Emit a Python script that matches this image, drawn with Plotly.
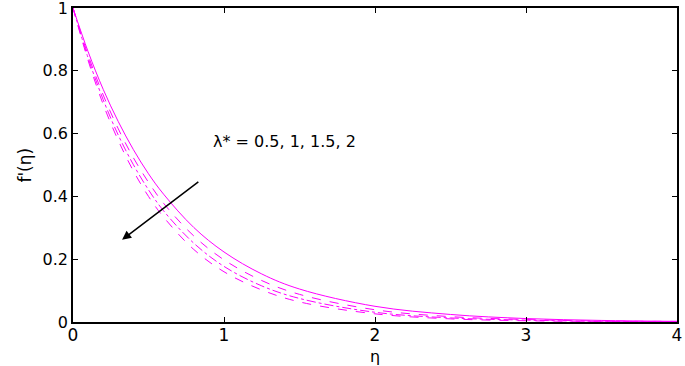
import plotly.graph_objects as go

eta = [0, 0.1, 0.2, 0.3, 0.4, 0.5, 0.6, 0.8, 1.0, 1.25, 1.5, 2.0, 2.5, 3.0, 3.5, 4.0]
f_05 = [1, 0.861, 0.741, 0.638, 0.549, 0.472, 0.407, 0.301, 0.223, 0.153, 0.105, 0.050, 0.024, 0.011, 0.005, 0.002]
f_10 = [1, 0.850, 0.723, 0.615, 0.523, 0.445, 0.378, 0.274, 0.198, 0.132, 0.088, 0.039, 0.017, 0.008, 0.003, 0.002]
f_15 = [1, 0.841, 0.708, 0.595, 0.501, 0.421, 0.354, 0.251, 0.177, 0.115, 0.075, 0.031, 0.013, 0.006, 0.002, 0.001]
f_20 = [1, 0.833, 0.693, 0.578, 0.481, 0.400, 0.334, 0.231, 0.160, 0.102, 0.064, 0.026, 0.010, 0.004, 0.002, 0.001]

x_ticks = [0, 1, 2, 3, 4]
x_tick_labels = ["0", "1", "2", "3", "4"]
y_ticks = [0, 0.2, 0.4, 0.6, 0.8, 1]
y_tick_labels = ["0", "0.2", "0.4", "0.6", "0.8", "1"]

series = [("λ*=0.5", f_05, "solid"), ("λ*=1", f_10, "dash"),
          ("λ*=1.5", f_15, "dashdot"), ("λ*=2", f_20, "dash")]

FONT = "DejaVu Sans, Arial"

fig = go.Figure()
for name, ys, dash in series:
    fig.add_trace(go.Scatter(x=eta, y=ys, mode="lines", name=name,
                             line=dict(color="#FF00FF", width=1, dash=dash, shape="spline")))

axis_common = dict(showgrid=False, zeroline=False, showline=True, linecolor="black",
                   linewidth=1.5, mirror="ticks", ticks="inside", ticklen=5,
                   tickcolor="black", tickwidth=1, automargin=False,
                   ticklabeloverflow="allow")

fig.update_xaxes(range=[0, 4], tickvals=x_ticks, ticktext=x_tick_labels,
                 ticklabelstandoff=-3,
                 tickfont=dict(family=FONT, size=17, color="black"), **axis_common)
fig.update_yaxes(range=[0, 1], tickvals=y_ticks, ticktext=y_tick_labels,
                 tickfont=dict(family=FONT, size=16, color="black"), **axis_common)

# axis titles
fig.add_annotation(x=0.5, y=-0.11, xref="paper", yref="paper", text="η", showarrow=False,
                   yanchor="middle", font=dict(family=FONT, size=16, color="black"))
fig.add_annotation(x=-0.1, y=0.5, xref="paper", yref="paper", text="f'(η)", showarrow=False,
                   textangle=-90, font=dict(family=FONT, size=17, color="black"))

fig.add_annotation(x=1.40, y=0.574, xref="x", yref="y", text="λ* = 0.5, 1, 1.5, 2",
                   showarrow=False, font=dict(family=FONT, size=16, color="black"))
fig.add_annotation(x=0.325, y=0.262, ax=0.84, ay=0.45, xref="x", yref="y", axref="x", ayref="y",
                   text="", showarrow=True, arrowhead=2, arrowsize=1.2, arrowwidth=1.5, arrowcolor="black")

fig.update_layout(width=685, height=366, margin=dict(l=73, r=8, t=8, b=44),
                  plot_bgcolor="white", paper_bgcolor="white", showlegend=False)

fig.write_html("out.html", config={"displayModeBar": False},
               post_script="document.body.style.margin='0px';")
